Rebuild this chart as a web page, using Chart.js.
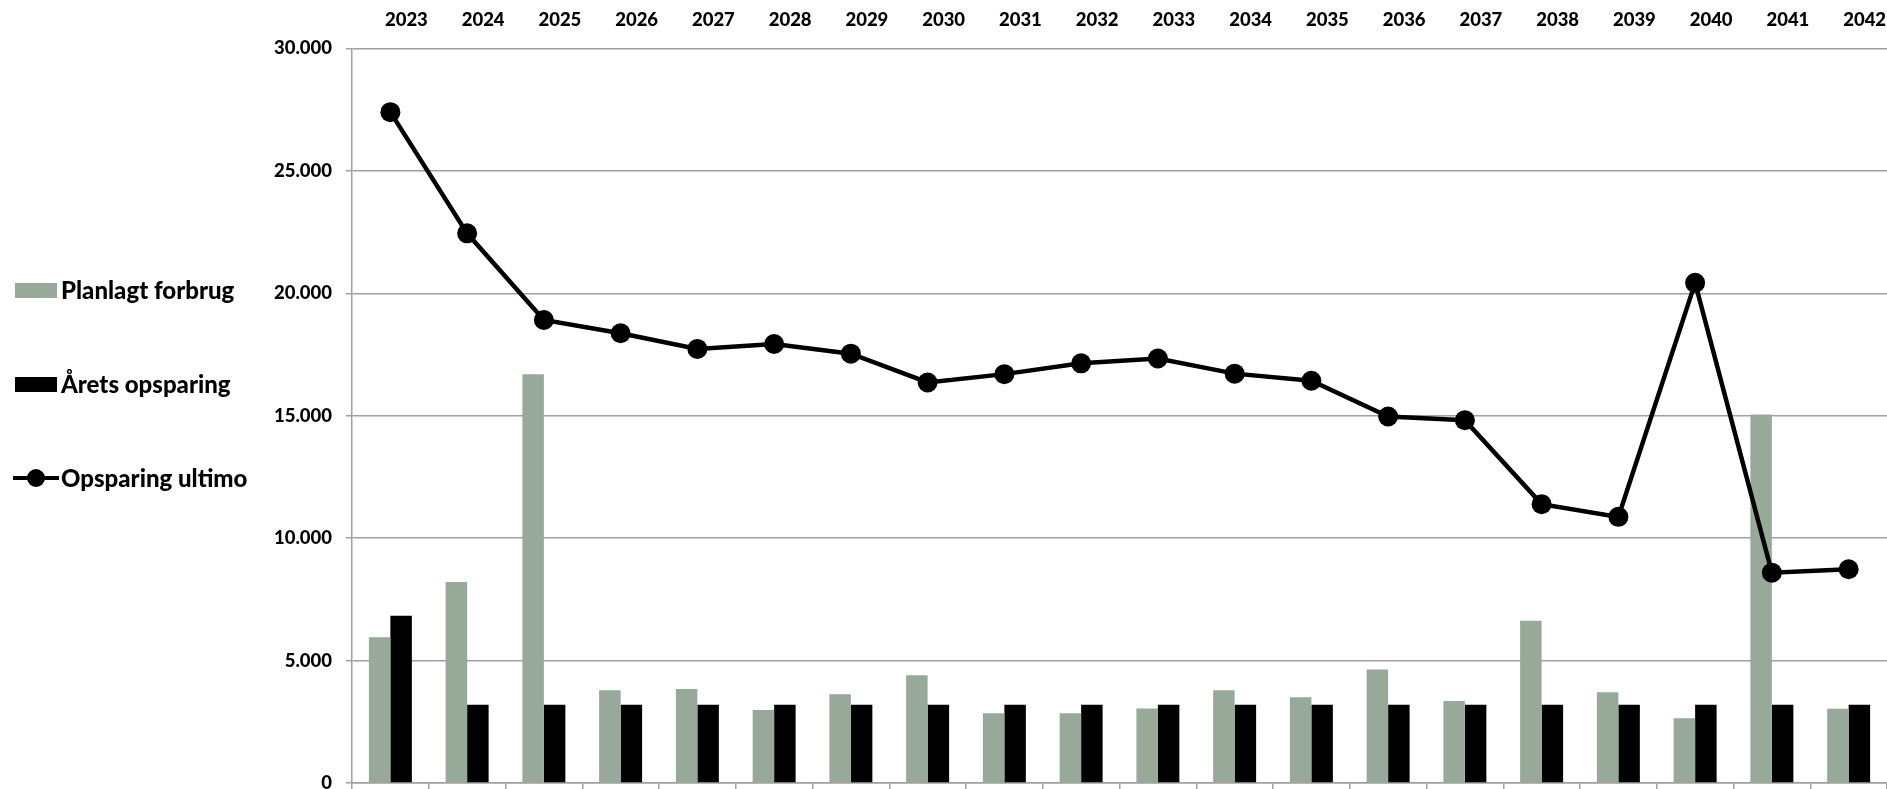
<!DOCTYPE html>
<html>
<head>
<meta charset="utf-8">
<script src="https://cdn.jsdelivr.net/npm/chart.js@4"></script>
<style>
  body { margin: 0; background: #fff; }
  #wrap { position: relative; width: 1887px; height: 789px; overflow: hidden; }
  #myChart { position: absolute; left: 0; top: 0; }
  .legend-item {
    position: absolute; left: 0; height: 30px; line-height: 30px;
    font: 900 24px Lato, sans-serif; color: #000; white-space: nowrap;
  }
  .legend-item .box { position: absolute; left: 15px; top: 8px; width: 42px; height: 15px; }
  .legend-item .line { position: absolute; left: 13px; top: 13px; width: 46px; height: 4px; background: #000; }
  .legend-item .dot { position: absolute; left: 27px; top: 6px; width: 18px; height: 18px; border-radius: 50%; background: #000; }
  .legend-item .text { position: absolute; left: 61px; top: 0; }
</style>
</head>
<body>
<div id="wrap">
  <canvas id="myChart" width="1887" height="789"></canvas>
  <div id="legend"></div>
</div>
<script>
const years = ['2023', '2024', '2025', '2026', '2027', '2028', '2029', '2030', '2031', '2032',
               '2033', '2034', '2035', '2036', '2037', '2038', '2039', '2040', '2041', '2042'];
const planlagtForbrug = [5950, 8210, 16700, 3790, 3840, 2980, 3620, 4400, 2850, 2850,
                         3045, 3790, 3500, 4640, 3350, 6630, 3710, 2640, 15050, 3030];
const aaretsOpsparing = [6830, 3200, 3200, 3200, 3200, 3200, 3200, 3200, 3200, 3200,
                         3200, 3200, 3200, 3200, 3200, 3200, 3200, 3200, 3200, 3200];
const opsparingUltimo = [27400, 22450, 18910, 18370, 17730, 17930, 17535, 16360, 16700, 17140,
                         17340, 16720, 16430, 14970, 14820, 11390, 10870, 20430, 8590, 8730];
const yTicks = [0, 5000, 10000, 15000, 20000, 25000, 30000];

const grey = '#97aa9a';
const gridGrey = '#a0a0a0';

// danish thousands separator
function fmt(v) {
  return String(v).replace(/\B(?=(\d{3})+(?!\d))/g, '.');
}

const data = {
  labels: years,
  datasets: [
    {
      type: 'line',
      label: 'Opsparing ultimo',
      data: opsparingUltimo,
      borderColor: '#000',
      backgroundColor: '#000',
      borderWidth: 4.5,
      pointRadius: 10,
      pointBackgroundColor: '#000',
      pointBorderWidth: 0,
      tension: 0,
      order: 0
    },
    {
      label: 'Planlagt forbrug',
      data: planlagtForbrug,
      backgroundColor: grey,
      order: 1
    },
    {
      label: 'Årets opsparing',
      data: aaretsOpsparing,
      backgroundColor: '#000',
      order: 1
    }
  ]
};

const config = {
  type: 'bar',
  data,
  options: {
    responsive: false,
    animation: false,
    devicePixelRatio: 1,
    layout: { autoPadding: false, padding: 0 },
    datasets: {
      bar: { categoryPercentage: 0.56, barPercentage: 1 }
    },
    plugins: {
      legend: { display: false },
      tooltip: { enabled: false }
    },
    scales: {
      x: {
        position: 'bottom',
        offset: true,
        grid: { offset: true, drawOnChartArea: false, drawTicks: true, tickLength: 6, color: gridGrey, lineWidth: 1.5 },
        border: { color: gridGrey, width: 1.5 },
        ticks: { display: false },
        afterFit: (s) => { s.height = 6; }
      },
      x2: {
        type: 'category',
        labels: years,
        position: 'top',
        offset: true,
        grid: { display: false, drawTicks: false },
        border: { display: false },
        ticks: {
          color: '#000',
          font: { family: 'Lato', weight: '900', size: 18.5 },
          padding: 17,
          labelOffset: 16,
          maxRotation: 0,
          autoSkip: false
        },
        afterFit: (s) => { s.height = 48.5; s.paddingLeft = 0; s.paddingRight = 0; }
      },
      y: {
        min: 0,
        max: 30000,
        afterBuildTicks: (s) => { s.ticks = yTicks.map(v => ({ value: v })); },
        grid: { color: gridGrey, lineWidth: 1.5, tickLength: 6 },
        border: { color: gridGrey, width: 1.5 },
        ticks: {
          color: '#000',
          font: { family: 'Lato', weight: '900', size: 18.5 },
          padding: 14,
          callback: (v) => fmt(v)
        },
        afterFit: (s) => { s.width = 352; s.paddingTop = 0; s.paddingBottom = 0; }
      }
    }
  }
};

const myChart = new Chart(document.getElementById('myChart'), config);

// legend on the left, built from the datasets
const legendItems = [
  { ds: data.datasets[1], top: 275 },
  { ds: data.datasets[2], top: 369 },
  { ds: data.datasets[0], top: 463 }
];
const legend = document.getElementById('legend');
legendItems.forEach(item => {
  const el = document.createElement('div');
  el.className = 'legend-item';
  el.style.top = item.top + 'px';
  if (item.ds.type === 'line') {
    el.innerHTML = '<span class="line"></span><span class="dot"></span>';
  } else {
    el.innerHTML = '<span class="box" style="background:' + item.ds.backgroundColor + '"></span>';
  }
  const t = document.createElement('span');
  t.className = 'text';
  t.textContent = item.ds.label;
  el.appendChild(t);
  legend.appendChild(el);
});
</script>
</body>
</html>
